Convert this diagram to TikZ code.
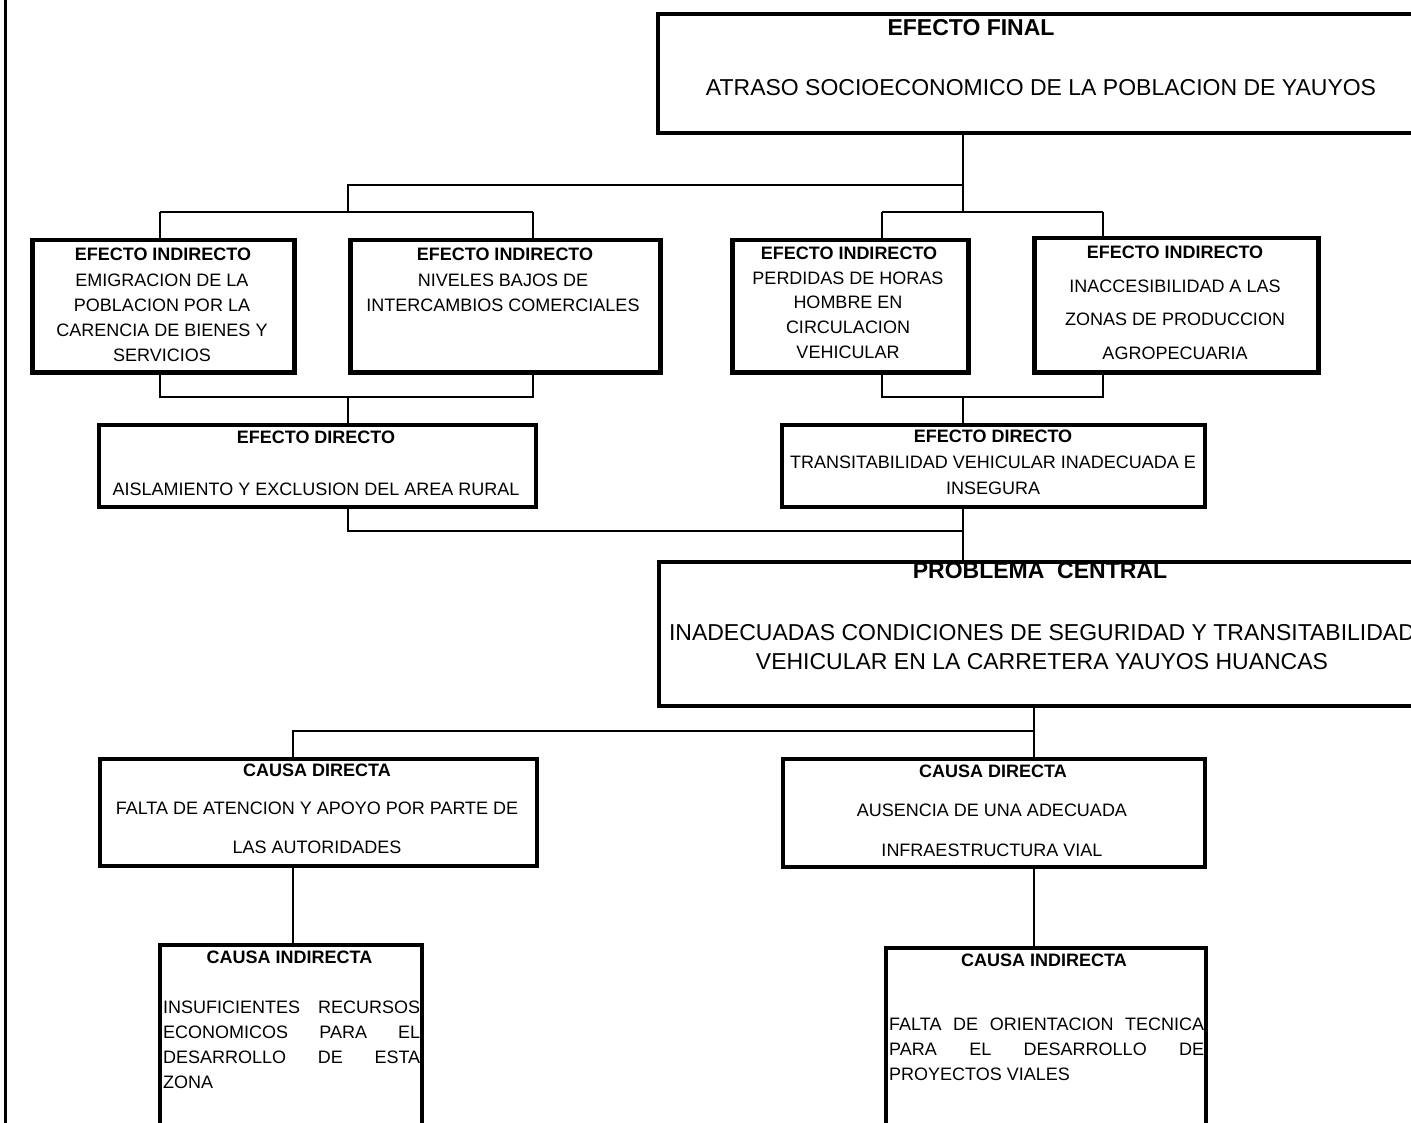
\documentclass[tikz,border=0pt]{standalone}
\usepackage{fontspec}
\setmainfont{Liberation Sans}
\begin{document}
\begin{tikzpicture}[x=1pt,y=-1pt,
  box/.style={draw=black, line width=4pt, inner sep=0pt, anchor=north west},
  conn/.style={draw=black, line width=2.2pt},
  ttl/.style={font=\fontsize{18}{22}\selectfont\bfseries, inner sep=0pt},
  txt/.style={font=\fontsize{18}{25}\selectfont, inner sep=0pt, align=center},
  big/.style={font=\fontsize{23}{29}\selectfont, inner sep=0pt, align=center},
  bigttl/.style={font=\fontsize{23}{29}\selectfont\bfseries, inner sep=0pt}]
\useasboundingbox (0,0) rectangle (1411,1123);
\clip (0,0) rectangle (1411,1123);
\fill[white] (0,0) rectangle (1411,1123);

% left margin rule
\draw[line width=3pt] (5,0) -- (5,1123);

% boxes
\node[box, minimum width=800pt, minimum height=119pt] (ef)  at (656,12) {};
\node[box, line width=4.5pt, minimum width=262pt, minimum height=132pt] (ei1) at (30,238) {};
\node[box, line width=4.5pt, minimum width=310pt, minimum height=132pt] (ei2) at (348,238) {};
\node[box, line width=4.5pt, minimum width=236pt, minimum height=132pt] (ei3) at (730,238) {};
\node[box, line width=4.5pt, minimum width=284pt, minimum height=134pt] (ei4) at (1032,236) {};
\node[box, minimum width=437pt, minimum height=82pt] (ed1) at (97,423) {};
\node[box, minimum width=423pt, minimum height=82pt] (ed2) at (780,423) {};
\node[box, minimum width=800pt, minimum height=144pt] (pc)  at (657,560) {};
\node[box, minimum width=437pt, minimum height=107pt] (cd1) at (98,757) {};
\node[box, minimum width=422pt, minimum height=108pt] (cd2) at (781,757) {};
\node[box, minimum width=262pt, minimum height=200pt] (ci1) at (158,943) {};
\node[box, minimum width=320pt, minimum height=200pt] (ci2) at (884,946) {};

% texts
\node[bigttl] (eft) at (971,28) {EFECTO FINAL};
\node[big] (efb) at (1041,88) {ATRASO SOCIOECONOMICO DE LA POBLACION DE YAUYOS};

\node[ttl] (ei1t) at (163,254) {EFECTO INDIRECTO};
\node[txt] (ei1b) at (162,317.5) {EMIGRACION DE LA\\POBLACION POR LA\\CARENCIA DE BIENES Y\\SERVICIOS};

\node[ttl] (ei2t) at (505,254) {EFECTO INDIRECTO};
\node[txt] (ei2b) at (503,292.5) {NIVELES BAJOS DE\\INTERCAMBIOS COMERCIALES};

\node[ttl] (ei3t) at (849,253) {EFECTO INDIRECTO};
\node[txt, font=\fontsize{18}{24.7}\selectfont] (ei3b) at (848,315) {PERDIDAS DE HORAS\\HOMBRE EN\\CIRCULACION\\VEHICULAR};

\node[ttl] (ei4t) at (1175,252) {EFECTO INDIRECTO};
\node[txt, font=\fontsize{18}{33.5}\selectfont] (ei4b) at (1175,319.5) {INACCESIBILIDAD A LAS\\ZONAS DE PRODUCCION\\AGROPECUARIA};

\node[ttl] (ed1t) at (316,437) {EFECTO DIRECTO};
\node[txt] (ed1b) at (316,489) {AISLAMIENTO Y EXCLUSION DEL AREA RURAL};

\node[ttl] (ed2t) at (993,436) {EFECTO DIRECTO};
\node[txt, font=\fontsize{18}{26}\selectfont] (ed2b) at (993,475) {TRANSITABILIDAD VEHICULAR INADECUADA E\\INSEGURA};

\node[bigttl] (pct) at (1040,571) {PROBLEMA\ \ CENTRAL};
\node[big] (pcb) at (1042,647.5) {INADECUADAS CONDICIONES DE SEGURIDAD Y TRANSITABILIDAD\\VEHICULAR EN LA CARRETERA YAUYOS HUANCAS};

\node[ttl] (cd1t) at (317,770) {CAUSA DIRECTA};
\node[txt, font=\fontsize{18}{39}\selectfont] (cd1b) at (317,827.5) {FALTA DE ATENCION Y APOYO POR PARTE DE\\LAS AUTORIDADES};

\node[ttl] (cd2t) at (993,771) {CAUSA DIRECTA};
\node[txt, font=\fontsize{18}{40}\selectfont] (cd2b) at (992,830) {AUSENCIA DE UNA ADECUADA\\INFRAESTRUCTURA VIAL};

\node[ttl] (ci1t) at (289.5,957) {CAUSA INDIRECTA};
\node[txt, align=left, anchor=west] (ci1b) at (163,1044.5) {\makebox[257pt][s]{INSUFICIENTES RECURSOS}\\\makebox[257pt][s]{ECONOMICOS PARA EL}\\\makebox[257pt][s]{DESARROLLO DE ESTA}\\ZONA};

\node[ttl] (ci2t) at (1044,960) {CAUSA INDIRECTA};
\node[txt, align=left, anchor=west] (ci2b) at (889,1049) {\makebox[315pt][s]{FALTA DE ORIENTACION TECNICA}\\\makebox[315pt][s]{PARA EL DESARROLLO DE}\\PROYECTOS VIALES};

% junction coordinates
\coordinate (b1) at (963,185);
\coordinate (b1l) at (348,185);
\coordinate (b2) at (348,212);
\coordinate (b2l) at (160,212);
\coordinate (b2r) at (533,212);
\coordinate (b3) at (963,212);
\coordinate (b3l) at (882,212);
\coordinate (b3r) at (1103,212);
\coordinate (c1l) at (160,397);
\coordinate (c1r) at (533,397);
\coordinate (c1) at (348,397);
\coordinate (c2l) at (882,397);
\coordinate (c2r) at (1103,397);
\coordinate (c2) at (963,397);
\coordinate (d1) at (348,531);
\coordinate (d2) at (963,531);
\coordinate (e1) at (1034,731);
\coordinate (e2) at (293,731);

% connectors
\draw[conn] (ef.south -| b1) -- (b3);
\draw[conn] (b1) -- (b1l) -- (b2);
\draw[conn] (b2l) -- (b2r);
\draw[conn] (b2l) -- (ei1.north -| b2l);
\draw[conn] (b2r) -- (ei2.north -| b2r);
\draw[conn] (b3l) -- (b3r);
\draw[conn] (b3l) -- (ei3.north -| b3l);
\draw[conn] (b3r) -- (ei4.north -| b3r);

\draw[conn] (ei1.south -| c1l) -- (c1l) -- (c1r) -- (ei2.south -| c1r);
\draw[conn] (c1) -- (ed1.north -| c1);
\draw[conn] (ei3.south -| c2l) -- (c2l) -- (c2r) -- (ei4.south -| c2r);
\draw[conn] (c2) -- (ed2.north -| c2);

\draw[conn] (ed1.south -| d1) -- (d1) -- (d2);
\draw[conn] (ed2.south -| d2) -- (pc.north -| d2);

\draw[conn] (pc.south -| e1) -- (cd2.north -| e1);
\draw[conn] (e1) -- (e2) -- (cd1.north -| e2);
\draw[conn] (cd1.south -| e2) -- (ci1.north -| e2);
\draw[conn] (cd2.south -| e1) -- (ci2.north -| e1);
\end{tikzpicture}
\end{document}
